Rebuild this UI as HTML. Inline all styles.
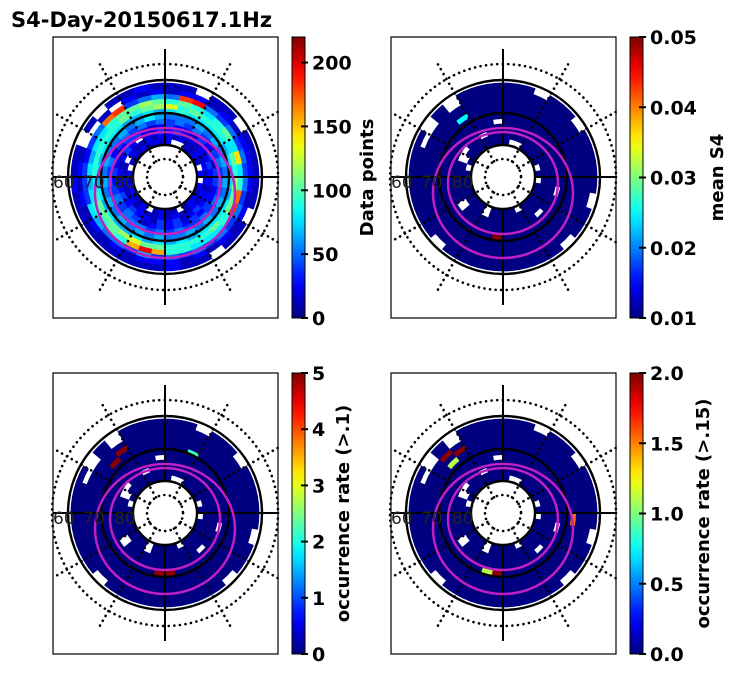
<!DOCTYPE html>
<html><head><meta charset="utf-8">
<style>
html,body{margin:0;padding:0;background:#fff;}
body{width:731px;height:674px;overflow:hidden;font-family:"Liberation Sans","DejaVu Sans",sans-serif;}
</style></head>
<body>
<svg id="fig" width="731" height="674" viewBox="0 0 731 674" xmlns="http://www.w3.org/2000/svg">
<text x="11" y="27" font-size="21" font-weight="bold" font-family="DejaVu Sans, Liberation Sans, sans-serif">S4-Day-20150617.1Hz</text>
</svg>
<script>
// ---- data (rings inner->outer, 36 sectors of 10deg from east, CCW; '.' = no data; hex digit) ----
const ringEdges = [33,38,43,48,53,58,63,68,73,78,83,88,94];
const panel1Rings = [
"2.1211..21212111.2122112.1211.12212.",
"121211212212112.11211212112121121212",
"232212132321.23212123232213231232212",
"313231223212332123234343123232323223",
"343234343434343243434344434343343434",
"454545444565454454545454545445454545",
"565666676565566656565655656565666656",
"78677787a987877777678889a88777787889",
"6b6876787898876656567787cfc776667ed7",
"343434fe4543ed4323336544353434343434",
"222121221212.1..12121212122212121212",
"111.11.111211.1.11211111111211.11.11"];
const panel2Rings = [
"0.0000..00000000.0000000.0000.00000.",
"000000000000000.00000000.00000000000",
"00000000000.00..00000.00000000000000",
"000000000000000000000.000000000.0000",
"000000000.000000000000000000000000.0",
"000000000000000000000000009000000000",
"000000000000000000000000000000000000",
"000000000000300000000000000000000000",
"000000000000000000000000000000000000",
"000000000000000000000000000000000000",
"000000000000.0..00000000000000000000",
"000.00.00000.0.0000000.00000000.00.0"];
const panel3Rings = [
"0.0000..00000000.0000000.0000.00000.",
"000000000000000.00000000.00000000000",
"00000000000.00..00000.00000000000000",
"000000000000000000000.000000000.0000",
"000000000.000000000000000000000000.0",
"000000000000000000000000009900000000",
"000000400000000000000000000000000000",
"000000000000090000000000000000000000",
"000000000000900000000000000000000000",
"000000000000000000000000000000000000",
"000000000000.0..00000000000000000000",
"000.00.00000.0.0000000.00000000.00.0"];
const panel4Rings = [
"0.0000..00000000.0000000.0000.00000.",
"000000000000000.00000000.00000000000",
"00000000000.00..00000.00000000000000",
"000000000000000000000.000000000.0000",
"000000000.000000000000000000000000.0",
"000000000000000000000000059000000000",
"000000000000000000000000000000000000",
"000000000000050000000000000000000007",
"000000000000900000000000000000000000",
"000000000000090000000000000000000000",
"000000000000.0..00000000000000000000",
"000.00.00000.0.0000000.00000000.00.0"];
const p1Ticks = ["0","50","100","150","200"];
const p1TickVals = [0,50,100,150,200];
const p2Ticks = ["0.01","0.02","0.03","0.04","0.05"];
const p2TickVals = [0.01,0.02,0.03,0.04,0.05];
const p3Ticks = ["0","1","2","3","4","5"];
const p3TickVals = [0,1,2,3,4,5];
const p4Ticks = ["0.0","0.5","1.0","1.5","2.0"];
const p4TickVals = [0,0.5,1,1.5,2];
const latLabels = ["60","70","80"];

const NS="http://www.w3.org/2000/svg";
const fig=document.getElementById('fig');
function mk(tag,attrs,parent){const e=document.createElementNS(NS,tag);for(const k in attrs)e.setAttribute(k,attrs[k]);(parent||fig).appendChild(e);return e;}
function jet(x){x=Math.max(0,Math.min(1,x));const c=v=>Math.round(255*Math.max(0,Math.min(1,v)));
return `rgb(${c(1.5-Math.abs(4*x-3))},${c(1.5-Math.abs(4*x-2))},${c(1.5-Math.abs(4*x-1))})`;}

const panels=[
 {name:'data-points',bx:53,by:37,rings:panel1Rings,vmin:0,vmax:220,step:13,base:0,ticks:p1Ticks,tv:p1TickVals,label:'Data points',lx:367},
 {name:'mean-s4',bx:391,by:37,rings:panel2Rings,vmin:0.01,vmax:0.05,step:0.005,base:0.01,ticks:p2Ticks,tv:p2TickVals,label:'mean S4',lx:717},
 {name:'occurrence-rate-01',bx:53,by:373,rings:panel3Rings,vmin:0,vmax:5,step:0.55,base:0,ticks:p3Ticks,tv:p3TickVals,label:'occurrence rate (>.1)',lx:343},
 {name:'occurrence-rate-015',bx:391,by:373,rings:panel4Rings,vmin:0,vmax:2,step:0.22,base:0,ticks:p4Ticks,tv:p4TickVals,label:'occurrence rate (>.15)',lx:703}
];
const W=225,H=281;
function wedge(cx,cy,r0,r1,a0,a1){
 const p=(r,a)=>[cx+r*Math.cos(a*Math.PI/180),cy-r*Math.sin(a*Math.PI/180)];
 const [x0,y0]=p(r1,a0),[x1,y1]=p(r1,a1),[x2,y2]=p(r0,a1),[x3,y3]=p(r0,a0);
 return `M${x0},${y0}A${r1},${r1} 0 0 0 ${x1},${y1}L${x2},${y2}A${r0},${r0} 0 0 1 ${x3},${y3}Z`;
}
panels.forEach(P=>{
 const g=mk('g',{});
 
 
 const cx=P.bx+112,cy=P.by+140;
 P.rings.forEach((row,ri)=>{
  for(let s=0;s<36;s++){
   const ch=row[s]; if(ch===undefined||ch==='.') continue;
   const v=P.base+parseInt(ch,16)*P.step;
   const c=mk('path',{d:wedge(cx,cy,ringEdges[ri],ringEdges[ri+1]+0.4,s*10-0.2,s*10+10.2),fill:jet((v-P.vmin)/(P.vmax-P.vmin))},g);
   
   
  }
 });
 const dots={fill:'none',stroke:'#000','stroke-width':2.6,'stroke-dasharray':'0.1 5.5','stroke-linecap':'round'};
 [113,18].forEach(r=>{const c=mk('circle',Object.assign({cx,cy,r},dots),g);
  
  });
 for(let a=30;a<360;a+=30){ if(a%90===0) continue;
  const t=a*Math.PI/180;
  const l=mk('line',Object.assign({x1:cx+18*Math.cos(t),y1:cy-18*Math.sin(t),x2:cx+130*Math.cos(t),y2:cy-130*Math.sin(t)},dots),g);
  
  
 }
 [97,64,32].forEach(r=>{const c=mk('circle',{cx,cy,r,fill:'none',stroke:'#000','stroke-width':2.4},g);
  
  });
 [[P.bx,cy,cx-32,cy],[cx+32,cy,P.bx+W,cy],[cx,cy-128,cx,cy-32],[cx,cy+32,cx,cy+128]].forEach(q=>{
  const l=mk('line',{x1:q[0],y1:q[1],x2:q[2],y2:q[3],stroke:'#000','stroke-width':2},g);
  
  });
 [[cx,cy+16,70,65],[cx,cy+6,55,51]].forEach(e=>{
  const o=mk('ellipse',{cx:e[0],cy:e[1],rx:e[2],ry:e[3],fill:'none',stroke:'#c020c0','stroke-width':2.5},g);
  
  });
 [P.bx,P.bx+30,P.bx+61].forEach((x,i)=>{
  const t=mk('text',{x,y:cy+11,'font-size':17,fill:'#222','font-family':'DejaVu Sans, sans-serif'},g);
  t.textContent=latLabels[i];
  
  });
 const f=mk('rect',{x:P.bx,y:P.by,width:W,height:H,fill:'none',stroke:'#000','stroke-width':1.2},g);
 
 
 const cbx=P.bx+W+14,cbw=13;
 const gid='grad'+P.name;
 const defs=mk('defs',{},g);
 const lg=mk('linearGradient',{id:gid,x1:0,y1:1,x2:0,y2:0},defs);
 for(let i=0;i<=20;i++) mk('stop',{offset:i/20,'stop-color':jet(i/20)},lg);
 const cb=mk('rect',{x:cbx,y:P.by,width:cbw,height:H,fill:`url(#${gid})`,stroke:'#000','stroke-width':1},g);
 
 
 P.tv.forEach((v,i)=>{
  const y=P.by+H-(v-P.vmin)/(P.vmax-P.vmin)*H;
  mk('line',{x1:cbx+cbw-4,y1:y,x2:cbx+cbw+3,y2:y,stroke:'#000','stroke-width':2},g);
  const t=mk('text',{x:cbx+cbw+7,y:y+7,'font-size':19,'font-weight':'bold','font-family':'DejaVu Sans, sans-serif'},g);
  t.textContent=P.ticks[i];
  
  
 });
 const lb=mk('text',{x:0,y:0,'font-size':18,'font-weight':'bold','text-anchor':'middle','font-family':'DejaVu Sans, sans-serif',transform:`translate(${P.lx+6},${P.by+H/2}) rotate(-90)`},g);
 lb.textContent=P.label;
 
 
});
</script>
</body></html>
